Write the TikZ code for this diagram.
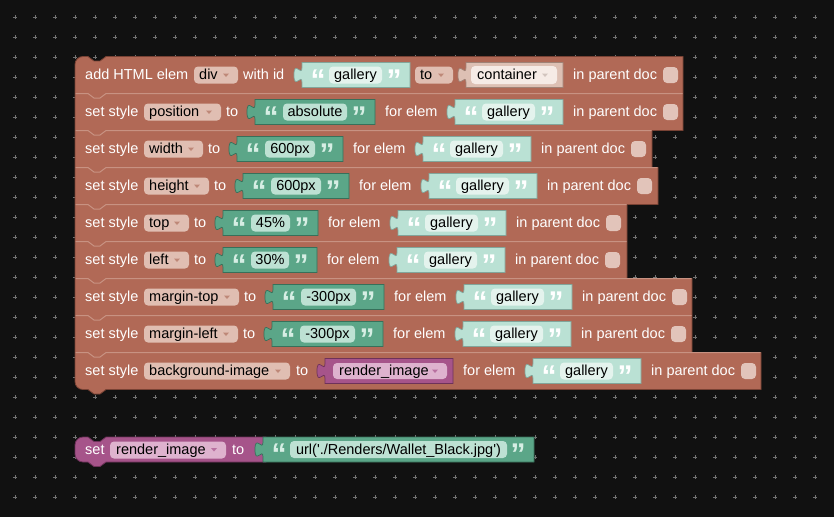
\documentclass[tikz,border=0pt]{standalone}
\usepackage{fontspec}
\setmainfont{Liberation Sans}
\usetikzlibrary{positioning}

\definecolor{bgcol}{RGB}{17,17,17}
\definecolor{gridcol}{RGB}{115,115,115}
\definecolor{brblock}{RGB}{177,105,86}
\definecolor{brdark}{RGB}{120,66,52}
\definecolor{brlight}{RGB}{200,146,130}
\definecolor{brfield}{RGB}{224,190,178}
\definecolor{brarrow}{RGB}{190,136,120}
\definecolor{chkcol}{RGB}{226,196,186}
\definecolor{grblock}{RGB}{91,166,136}
\definecolor{grdark}{RGB}{55,112,90}
\definecolor{grfield}{RGB}{189,225,211}
\definecolor{grquote}{RGB}{214,238,228}
\definecolor{tlblock}{RGB}{186,225,212}
\definecolor{tldark}{RGB}{130,165,154}
\definecolor{tlfield}{RGB}{228,243,237}
\definecolor{ctblock}{RGB}{221,192,180}
\definecolor{ctdark}{RGB}{160,130,118}
\definecolor{ctfield}{RGB}{246,235,230}
\definecolor{ctarrow}{RGB}{210,196,190}
\definecolor{ppblock}{RGB}{166,84,138}
\definecolor{ppdark}{RGB}{110,50,90}
\definecolor{ppfield}{RGB}{222,178,206}
\definecolor{pparrow}{RGB}{184,112,160}

\tikzset{
  wtxt/.style={anchor=base west, inner sep=0pt, text=white},
  ddtxt/.style={anchor=base west, inner sep=0pt, text=black},
  dtxt/.style={anchor=base, inner sep=0pt, text=black},
  qmark/.style={anchor=base, inner sep=0pt, font=\fontsize{30}{30}\selectfont\bfseries},
  field/.style={rounded corners=4pt},
  gridmark/.style={draw=gridcol, line width=0.9pt},
  sepline/.style={draw=brlight, line width=1pt},
}

% value block with the puzzle tab on its left side
\newcommand{\valblock}[4]{%
  \filldraw[#4, line width=0.7pt] (#1,#3-12.5) -- (#2,#3-12.5) -- (#2,#3+12.5) -- (#1,#3+12.5) -- (#1,#3+7.5)
    .. controls (#1,#3-2.5) and (#1-8,#3+15.5) .. (#1-8,#3)
    .. controls (#1-8,#3-15.5) and (#1,#3+2.5) .. (#1,#3-7.5) -- cycle;}
\newcommand{\ddarrow}[3]{\fill[#3] (#1-3,#2-1.5) -- (#1+3,#2-1.5) -- (#1,#2+2) -- cycle;}
% "for elem" + gallery + "in parent doc" + checkbox
\newcommand{\forelem}[3]{%
  \node[wtxt] (for#3) at (#1+10,#2+4.5) {for elem};
  \valblock{#1+80}{#1+188}{#2}{fill=tlblock, draw=tldark}
  \fill[tlfield, field] (#1+107,#2-8.5) rectangle (#1+160,#2+8.5);
  \node[qmark, text=white] (go#3) at (#1+96,#2+15) {“};
  \node[qmark, text=white] (gc#3) at (#1+172,#2+15) {”};
  \node[dtxt] (gal#3) at (#1+133.5,#2+4.5) {gallery};
  \node[wtxt] (doc#3) at (#1+198,#2+4.5) {in parent doc};
  \fill[chkcol, field] (#1+288,#2-8) rectangle (#1+303,#2+8);}

\begin{document}
\begin{tikzpicture}[x=1pt,y=-1pt,font=\fontsize{14.5}{17}\selectfont]
\fill[bgcol] (0,0) rectangle (834,517);
\useasboundingbox (0,0) rectangle (834,517);
\foreach \gx in {15,35,...,815} {
  \foreach \gy in {17,37,...,497} {
    \draw[gridmark] (\gx-2,\gy) -- (\gx+2,\gy) (\gx,\gy-2) -- (\gx,\gy+2);
  }
}

% stack of style blocks
\filldraw[fill=brblock, draw=brdark, line width=0.8pt] (75,64.5) .. controls (75,60) and (78.5,56.5) .. (83,56.5)
  -- (88,56.5) -- (94,61) -- (100,61) -- (106,56.5) -- (683,56.5) -- (683,130.5) -- (652,130.5) -- (652,167.5)
  -- (658,167.5) -- (658,204.5) -- (627,204.5) -- (627,278.5) -- (692,278.5) -- (692,352.5) -- (761,352.5)
  -- (761,389.5) -- (106,389.5) -- (100,394) -- (94,394) -- (88,389.5) -- (83,389.5)
  .. controls (78.5,389.5) and (75,386) .. (75,381.5) -- cycle;
\foreach \t/\r in {93.5/683, 130.5/652, 167.5/658, 204.5/627, 241.5/627, 278.5/692, 315.5/692, 352.5/761}
  \draw[sepline] (75.5,\t) -- (88,\t) -- (94,\t+4.5) -- (100,\t+4.5) -- (106,\t) -- (\r-0.5,\t);

% row 1
\node[wtxt] (addlbl) at (85,79.5) {add HTML elem};
\fill[brfield, field] (194,66.5) rectangle (238,83.5);
\node[ddtxt] (divdd) at (199,79.5) {div};
\ddarrow{226}{75}{brarrow}
\node[wtxt] (withlbl) at (243,79.5) {with id};
\valblock{302}{410}{75}{fill=tlblock, draw=tldark}
\fill[tlfield, field] (329,66.5) rectangle (382,83.5);
\node[qmark, text=white] (qo1) at (318,90) {“};
\node[qmark, text=white] (qc1) at (394,90) {”};
\node[dtxt] (galid) at (355.5,79.5) {gallery};
\fill[brfield, field] (415,66.5) rectangle (453,83.5);
\node[ddtxt] (todd) at (420,79.5) {to};
\ddarrow{441}{75}{brarrow}
\valblock{466}{563}{75}{fill=ctblock, draw=ctdark}
\fill[ctfield, field] (471,66) rectangle (557,84);
\node[ddtxt] (contdd) at (477,79.5) {container};
\ddarrow{545}{75}{ctarrow}
\node[wtxt] (doc1) at (573,79.5) {in parent doc};
\fill[chkcol, field] (663,67) rectangle (678,83);

% rows 2 to 8
\foreach \r/\y/\prop/\a/\val/\c in {2/112/position/221/absolute/375, 3/149/width/203/600px/343,
    4/186/height/209/600px/349, 5/223/top/189/45\%/318, 6/260/left/189/30\%/317,
    7/297/margin-top/239/-300px/384, 8/334/margin-left/238/-300px/383} {
  \node[wtxt] (set\r) at (85,\y+4.5) {set style};
  \fill[brfield, field] (144,\y-8.5) rectangle (\a,\y+8.5);
  \node[ddtxt] (prop\r) at (149,\y+4.5) {\prop};
  \ddarrow{\a-12}{\y}{brarrow}
  \node[wtxt] (to\r) at (\a+5,\y+4.5) {to};
  \valblock{\a+34}{\c}{\y}{fill=grblock, draw=grdark}
  \fill[grfield, field] (\a+62,\y-8.5) rectangle (\c-28,\y+8.5);
  \node[qmark, text=grquote] (qo\r) at (\a+50,\y+15) {“};
  \node[qmark, text=grquote] (qc\r) at (\c-16,\y+15) {”};
  \node[dtxt] (val\r) at ({(\a+\c+34)/2},\y+4.5) {\val};
  \forelem{\c}{\y}{\r}
}

% row 9
\node[wtxt] (set9) at (85,375.5) {set style};
\fill[brfield, field] (144,362.5) rectangle (290,379.5);
\node[ddtxt] (prop9) at (149,375.5) {background-image};
\ddarrow{278}{371}{brarrow}
\node[wtxt] (to9) at (296,375.5) {to};
\valblock{325}{453}{371}{fill=ppblock, draw=ppdark}
\fill[ppfield, field] (333,363) rectangle (447,379);
\node[ddtxt] (var9) at (339,375.5) {render\_image};
\ddarrow{435}{371}{pparrow}
\forelem{453}{371}{9}

% variable block
\filldraw[fill=ppblock, draw=ppdark, line width=0.8pt] (75,445) .. controls (75,440.6) and (78.6,437) .. (83,437)
  -- (88,437) -- (94,441.5) -- (100,441.5) -- (106,437) -- (266,437) -- (266,462) -- (106,462) -- (100,466.5)
  -- (94,466.5) -- (88,462) -- (83,462) .. controls (78.6,462) and (75,458.4) .. (75,454) -- cycle;
\node[wtxt] (setlbl) at (85,454) {set};
\fill[ppfield, field] (110,441.5) rectangle (226,458.5);
\node[ddtxt] (rimg) at (116,454) {render\_image};
\ddarrow{214}{449.5}{pparrow}
\node[wtxt] (tolbl) at (232,454) {to};
\valblock{263}{534}{449.5}{fill=grblock, draw=grdark}
\fill[grfield, field] (290,441) rectangle (507,458);
\node[qmark, text=grquote] (qou) at (279,464.5) {“};
\node[qmark, text=grquote] (qcu) at (518,464.5) {”};
\node[dtxt] (url) at (398.5,454) {url(\textquotesingle./Renders/Wallet\_Black.jpg\textquotesingle)};
\end{tikzpicture}
\end{document}
